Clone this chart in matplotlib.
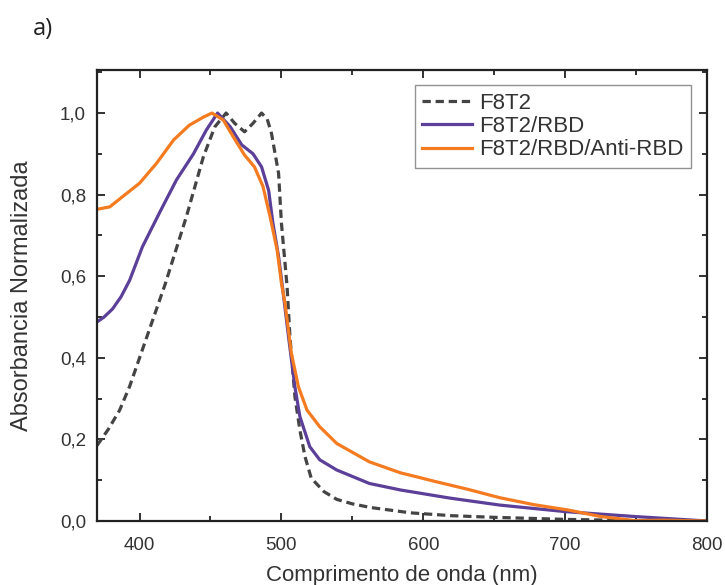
import matplotlib
matplotlib.use("Agg")
import matplotlib.pyplot as plt
from matplotlib.ticker import MultipleLocator, FuncFormatter

plt.rcParams['font.family'] = ['Liberation Sans', 'DejaVu Sans']

# F8T2 film
wl_f8t2 = [370, 378, 386, 393, 400, 409, 418, 433, 445, 453, 461, 467, 474, 480,
           486, 490, 493, 498, 500, 504, 506, 509.5, 513, 516.6, 521, 530, 539, 550,
           563, 591, 620, 650, 700, 750, 800]
abs_f8t2 = [0.185, 0.225, 0.272, 0.33, 0.40, 0.49, 0.58, 0.746, 0.893, 0.966, 1.0,
            0.975, 0.954, 0.975, 1.0, 0.985, 0.95, 0.852, 0.73, 0.574, 0.452, 0.305,
            0.223, 0.158, 0.105, 0.072, 0.053, 0.042, 0.033, 0.02, 0.013, 0.009,
            0.004, 0.001, 0.0]

# F8T2 with RBD
wl_rbd = [370, 375, 381, 387, 393, 402, 415, 426, 438, 447, 455, 464, 472, 480,
          486, 491, 494, 498, 501, 505, 509.5, 513, 520, 527, 539, 562, 584, 598,
          619, 654, 700, 749, 800]
abs_rbd = [0.488, 0.50, 0.52, 0.55, 0.59, 0.672, 0.762, 0.836, 0.90, 0.958, 1.0,
           0.966, 0.922, 0.90, 0.868, 0.81, 0.73, 0.648, 0.566, 0.452, 0.329, 0.256,
           0.182, 0.15, 0.125, 0.092, 0.076, 0.068, 0.056, 0.039, 0.023, 0.011, 0.0]

# F8T2 with RBD and Anti-RBD
wl_anti = [370, 379, 388, 400, 412, 424, 435, 445, 451, 459, 466, 474, 481, 487,
           492, 497, 500, 502.5, 507, 512, 518, 527, 539, 562, 584, 598, 607, 631,
           654, 678, 702, 725, 749, 770, 800]
abs_anti = [0.764, 0.77, 0.795, 0.828, 0.877, 0.934, 0.97, 0.99, 1.0, 0.983, 0.942,
            0.897, 0.868, 0.82, 0.746, 0.664, 0.583, 0.534, 0.411, 0.329, 0.272, 0.231,
            0.19, 0.145, 0.118, 0.106, 0.098, 0.078, 0.057, 0.04, 0.027, 0.011, 0.001,
            0.002, 0.0]

labels = ['F8T2', 'F8T2/RBD', 'F8T2/RBD/Anti-RBD']
colors = ['#444444', '#5c3f99', '#f47b20']

fig = plt.figure(figsize=(7.25, 5.85), dpi=100)
ax = fig.add_axes([0.1338, 0.1094, 0.8414, 0.7706])

ax.plot(wl_f8t2, abs_f8t2, color=colors[0], lw=2.3, linestyle=(0, (2.6, 1.5)),
        label=labels[0])
ax.plot(wl_rbd, abs_rbd, color=colors[1], lw=2.3, label=labels[1])
ax.plot(wl_anti, abs_anti, color=colors[2], lw=2.3, label=labels[2])

ax.set_xlim(370, 800)
ax.set_ylim(0, 1.105)
ax.xaxis.set_major_locator(MultipleLocator(100))
ax.xaxis.set_minor_locator(MultipleLocator(50))
ax.yaxis.set_major_locator(MultipleLocator(0.2))
ax.yaxis.set_minor_locator(MultipleLocator(0.1))
ax.yaxis.set_major_formatter(FuncFormatter(lambda v, p: f"{v:.1f}".replace('.', ',')))

ax.tick_params(which='both', direction='in', top=True, right=True, width=1.3,
               colors='#222222', labelcolor='#333333', labelsize=13.5, pad=8)
ax.tick_params(axis='x', which='both', pad=11.5)
ax.tick_params(which='major', length=6)
ax.tick_params(which='minor', length=3.5)
for s in ax.spines.values():
    s.set_linewidth(1.6)
    s.set_color('#222222')

ax.set_xlabel('Comprimento de onda (nm)', fontsize=16, color='#333333', labelpad=8)
ax.set_ylabel('Absorbancia Normalizada', fontsize=17, color='#333333', labelpad=19)

leg = ax.legend(loc='upper right', bbox_to_anchor=(0.974, 0.967), borderaxespad=0,
                fontsize=16, frameon=True, fancybox=False, handlelength=2.25,
                handletextpad=0.3, labelspacing=0.1, borderpad=0.35)
leg.get_frame().set_edgecolor('#777777')
leg.get_frame().set_linewidth(1.0)
for t in leg.get_texts():
    t.set_color('#333333')

fig.text(0.045, 0.950, 'a)', fontsize=17, family=['Open Sans', 'DejaVu Sans'],
         color='#222222', ha='left', va='center')

fig.savefig('out.png', dpi=100)
